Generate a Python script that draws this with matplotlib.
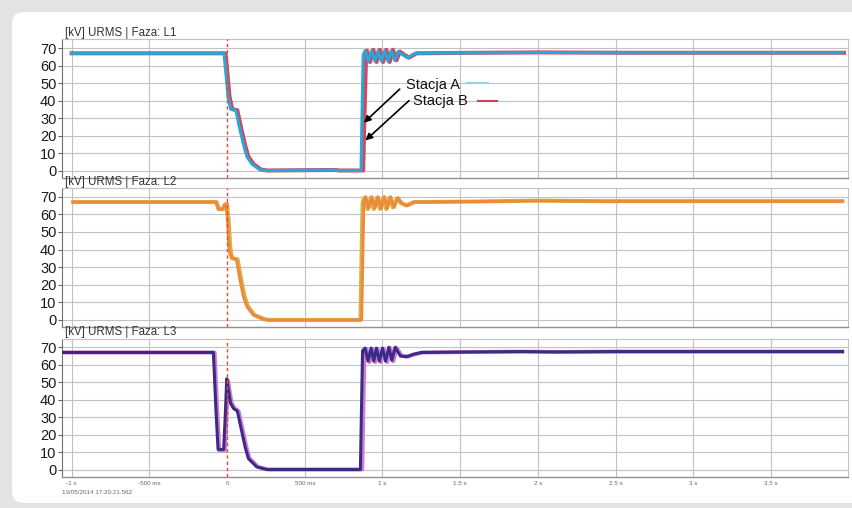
import matplotlib.pyplot as plt
from matplotlib.patches import FancyBboxPatch

plt.rcParams['font.family'] = ['Liberation Sans', 'DejaVu Sans']

# ---- data (time in s, voltage in kV) ----
# L1: Stacja A (blue) / Stacja B (red)
t1a = [-1.0, -0.02, -0.008, 0.006, 0.024, 0.056, 0.084, 0.108, 0.127, 0.16, 0.21, 0.25, 0.70, 0.72,
       0.862, 0.868, 0.876, 0.888, 0.909, 0.93, 0.951, 0.972, 0.993, 1.014, 1.035, 1.056, 1.078, 1.1,
       1.125, 1.16, 1.21, 1.6, 2.0, 2.6, 3.96]
v1a = [67, 67, 56, 42, 35, 34.5, 23, 14, 8, 3.7, 0.5, 0, 0.3, 0,
       0, 30, 66, 68.5, 62.5, 68.5, 62.5, 68.5, 62.5, 68.5, 62.5, 68.5, 63, 68,
       66.5, 64.5, 67, 67.3, 67.5, 67.3, 67.3]
t1b = [-1.0, -0.01, 0.002, 0.016, 0.034, 0.066, 0.094, 0.118, 0.137, 0.17, 0.22, 0.26, 0.70, 0.72,
       0.876, 0.884, 0.894, 0.9, 0.92, 0.941, 0.962, 0.983, 1.004, 1.025, 1.046, 1.067, 1.09, 1.112,
       1.135, 1.17, 1.22, 1.6, 2.0, 2.6, 3.97]
v1b = [67, 67, 56, 42, 35, 34.5, 23, 14, 8, 3.7, 0.5, 0, 0.3, 0,
       0, 30, 64, 68.5, 62, 69, 62, 69, 62, 69, 62, 69, 63, 68,
       66.5, 64.5, 67, 67.3, 67.5, 67.3, 67.3]

# L2: orange / yellow
t2a = [-0.99, -0.072, -0.058, -0.03, -0.018, -0.006, 0.004, 0.012, 0.02, 0.03, 0.06, 0.084, 0.105,
       0.127, 0.169, 0.234, 0.26, 0.866, 0.872, 0.88, 0.892, 0.912, 0.932, 0.952, 0.972, 0.992, 1.012,
       1.032, 1.052, 1.075, 1.1, 1.125, 1.16, 1.21, 1.6, 2.0, 2.4, 3.96]
v2a = [67, 67, 63, 63, 65.5, 66, 55, 42, 37, 35, 34.5, 22.7, 13.4,
       7.7, 2.8, 0.4, 0, 0, 30, 67, 70, 63.5, 70, 63.5, 70, 63.5, 70,
       63.5, 70, 64, 69.5, 66.5, 65, 67, 67.3, 67.8, 67.5, 67.5]
t2b = [-0.99, -0.066, -0.052, -0.024, -0.012, 0.0, 0.012, 0.02, 0.028, 0.038, 0.068, 0.092, 0.113,
       0.135, 0.177, 0.242, 0.27, 0.858, 0.864, 0.872, 0.884, 0.904, 0.924, 0.944, 0.964, 0.984, 1.004,
       1.024, 1.044, 1.067, 1.092, 1.117, 1.152, 1.2, 1.6, 2.0, 2.4, 3.96]
v2b = [67, 67, 63, 63, 65.5, 66, 55, 42, 37, 35, 34.5, 22.7, 13.4,
       7.7, 2.8, 0.4, 0, 0, 30, 67, 69.5, 63, 69.5, 63, 69.5, 63, 69.5,
       63, 69.5, 64, 69, 66.5, 65, 67, 67.3, 67.8, 67.5, 67.5]

# L3: navy / pink
t3a = [-1.062, -0.088, -0.072, -0.058, -0.022, -0.012, -0.002, 0.01, 0.022, 0.041, 0.066, 0.088, 0.116,
       0.137, 0.191, 0.255, 0.858, 0.864, 0.872, 0.888, 0.907, 0.927, 0.944, 0.961, 0.98, 1.0, 1.02,
       1.041, 1.06, 1.082, 1.115, 1.155, 1.2, 1.25, 1.6, 1.9, 2.1, 2.5, 3.96]
v3a = [67, 67, 35, 11.5, 11.5, 30, 52, 45, 38, 35, 33.5, 24.5, 13,
       6.3, 1.5, 0, 0, 30, 68, 69.5, 62, 69.5, 62, 69.5, 62, 69.5, 62,
       70, 62.5, 70, 65, 64.6, 66, 67, 67.3, 67.5, 67.3, 67.5, 67.5]
t3b = [-1.062, -0.08, -0.064, -0.05, -0.014, -0.004, 0.006, 0.018, 0.03, 0.049, 0.074, 0.096, 0.124,
       0.145, 0.199, 0.263, 0.87, 0.876, 0.884, 0.898, 0.917, 0.937, 0.954, 0.971, 0.99, 1.01, 1.03,
       1.051, 1.07, 1.092, 1.125, 1.165, 1.21, 1.26, 1.6, 1.9, 2.1, 2.5, 3.96]
v3b = [67, 67, 35, 11, 11, 30, 51, 44, 38, 35, 33.5, 24.5, 13,
       6.3, 1.5, 0, 0, 30, 67, 69, 61.5, 69, 61.5, 69, 61.5, 69, 61.5,
       69.5, 62, 69.5, 65, 64.6, 66, 67, 67.3, 67.5, 67.3, 67.5, 67.5]

titles = ['[kV] URMS | Faza: L1', '[kV] URMS | Faza: L2', '[kV] URMS | Faza: L3']
yticks = [0, 10, 20, 30, 40, 50, 60, 70]
xticks = [-1, -0.5, 0, 0.5, 1, 1.5, 2, 2.5, 3, 3.5]
xticklabels = ['-1 s', '-500 ms', '0', '500 ms', '1 s', '1.5 s', '2 s', '2.5 s', '3 s', '3.5 s']
timestamp = '13/05/2014 17:20:21.562'

series = [
    (t1a, v1a, '#2ea5d6', t1b, v1b, '#d0485e'),
    (t2a, v2a, '#ef8a3a', t2b, v2b, '#cfb94c'),
    (t3a, v3a, '#3a2c86', t3b, v3b, '#d57ad3'),
]

fig = plt.figure(figsize=(8.53, 5.08), dpi=100, facecolor='#e2e3e5')
bg = FancyBboxPatch((0.12, 0.05), 9.0, 4.91, boxstyle='round,pad=0,rounding_size=0.12',
                    transform=fig.dpi_scale_trans, facecolor='white', edgecolor='none', zorder=-10)
fig.add_artist(bg)

H = 508.0
rows = [(39.3, 177.5), (188.0, 327.0), (338.5, 476.5)]
left, width = 0.0727, 0.9215

axs = []
for i, (top, bot) in enumerate(rows):
    ax = fig.add_axes([left, 1 - bot / H, width, (bot - top) / H])
    ta, va, ca, tb, vb, cb = series[i]
    ax.plot(tb, vb, color=cb, lw=2.9, zorder=3, solid_joinstyle='round')
    ax.plot(ta, va, color=ca, lw=2.2, zorder=4, solid_joinstyle='round')
    ax.axvline(0, color='#ee4a30', lw=1.0, ls=(0, (2.5, 2)), zorder=5)

    ax.set_xlim(-1.062, 3.996)
    ax.set_ylim(-4, 75)
    ax.set_yticks(yticks)
    ax.set_xticks(xticks)
    ax.grid(True, color='#c2c2c2', lw=0.8)
    ax.xaxis.get_gridlines()[2].set_visible(False)
    ax.set_axisbelow(True)
    ax.tick_params(axis='y', direction='out', length=3, width=0.8, color='#666666',
                   labelsize=10.5, pad=1, labelcolor='#1a1a1a')
    ax.tick_params(axis='x', length=0, pad=3, labelsize=4.5, labelcolor='#666666')
    for s in ['top', 'right']:
        ax.spines[s].set_color('#c2c2c2')
        ax.spines[s].set_linewidth(0.8)
    ax.spines['left'].set_color('#707070')
    ax.spines['bottom'].set_color('#909090')
    ax.spines['bottom'].set_linewidth(1.0)
    if i < 2:
        ax.set_xticklabels([])
    else:
        ax.set_xticklabels(xticklabels)
    ax.text(0.004, 1.024, titles[i], transform=ax.transAxes, fontsize=8.3,
            color='#333333', va='baseline', ha='left')
    axs.append(ax)

axs[2].text(0.0, -0.115, timestamp, transform=axs[2].transAxes, fontsize=4.5,
            color='#666666', ha='left', va='center')

# annotations on L1
ax = axs[0]
ax.annotate('', xy=(0.867, 26.2), xytext=(1.124, 47.6),
            arrowprops=dict(arrowstyle='-|>', color='black', lw=1.2, mutation_scale=10))
ax.annotate('', xy=(0.877, 16.1), xytext=(1.184, 41.0),
            arrowprops=dict(arrowstyle='-|>', color='black', lw=1.2, mutation_scale=10))
ax.text(1.152, 48.6, 'Stacja A', fontsize=10.5, va='center', ha='left', color='#111111', zorder=6)
ax.text(1.199, 40.0, 'Stacja B', fontsize=10.5, va='center', ha='left', color='#111111', zorder=6)
ax.plot([1.545, 1.68], [49.9, 49.9], color='#8fd3ee', lw=1.5, zorder=6)
ax.plot([1.615, 1.735], [39.6, 39.6], color='#c8405a', lw=1.5, zorder=6)

fig.savefig('out.png', dpi=100, facecolor=fig.get_facecolor())
